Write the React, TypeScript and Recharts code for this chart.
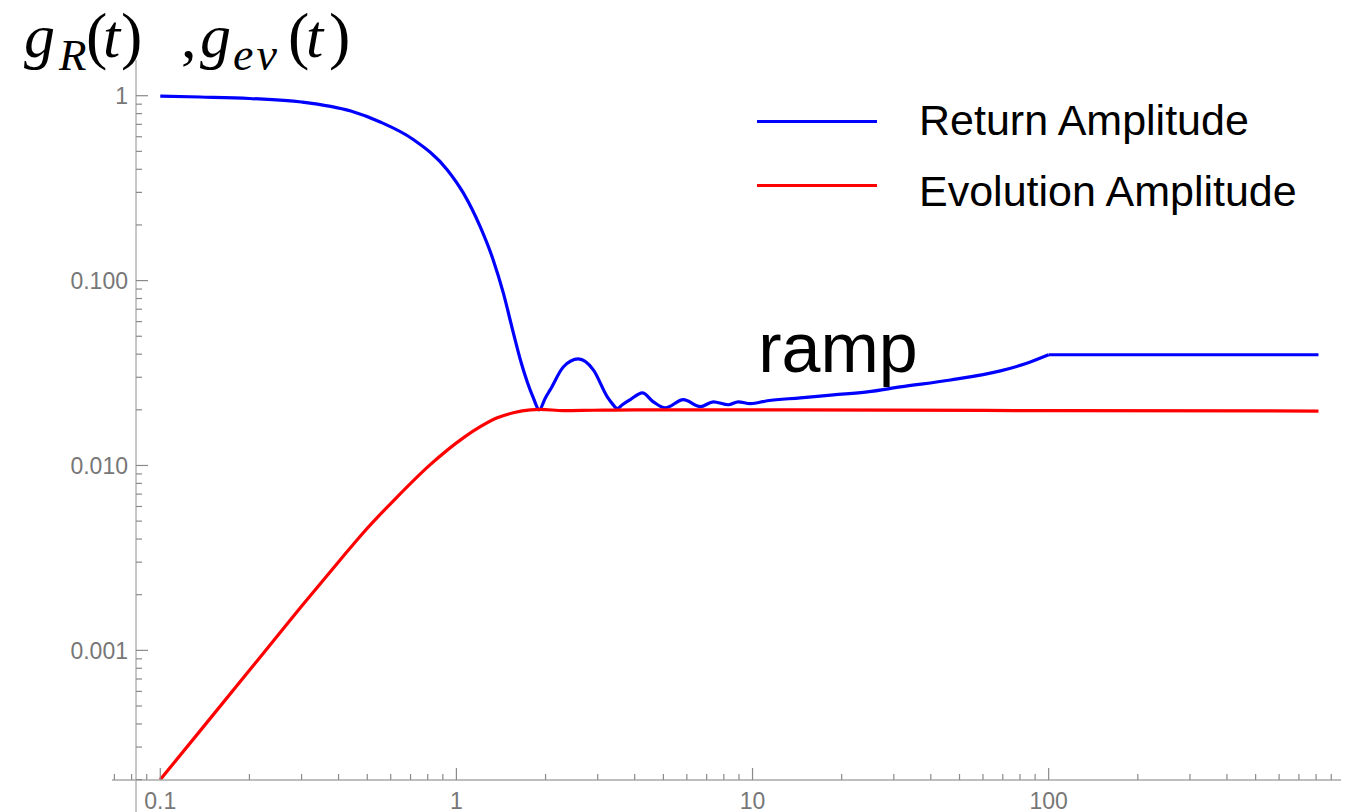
import { LineChart, Line, XAxis, YAxis, ReferenceLine, ReferenceDot, Legend } from 'recharts';

// return amplitude g_R(t) (up to the end of the ramp)
const returnTime = [
  0.1, 0.1365, 0.2, 0.3, 0.44, 0.553, 0.715, 0.932, 1.055, 1.204, 1.332, 1.44, 1.557,
  1.644, 1.735, 1.819, 1.905, 1.997, 2.075, 2.296, 2.58, 2.9, 3.233, 3.36, 3.494,
  3.634, 3.867, 4.245, 4.624, 5.076, 5.838, 6.665, 7.373, 8.286, 8.954, 9.83, 11.22,
  14.5, 18.75, 24.42, 31.6, 46.6, 68.7, 83.4, 100,
];
const returnAmp = [
  0.996, 0.984, 0.966, 0.925, 0.826, 0.721, 0.58, 0.397, 0.298, 0.195, 0.129, 0.0858, 0.0521,
  0.0373, 0.0283, 0.0232, 0.02, 0.0232, 0.0257, 0.0341, 0.0377, 0.0329, 0.0235, 0.0216, 0.0203,
  0.0213, 0.0227, 0.0247, 0.0221, 0.0205, 0.0227, 0.0208, 0.0221, 0.0213, 0.0221, 0.0216, 0.0224,
  0.0232, 0.0241, 0.025, 0.0266, 0.029, 0.0325, 0.0355, 0.0397,
];
// plateau after the ramp
const plateauTime = [100, 815];
const plateauAmp = [0.0397, 0.0397];

// evolution amplitude g_ev(t)
const evolutionTime = [
  0.1, 0.1365, 0.2013, 0.297, 0.4055, 0.4848, 0.6316, 0.816, 1.055, 1.204, 1.374, 1.557,
  1.777, 1.92, 2.296, 2.9, 4, 10, 100, 815,
];
const evolutionAmp = [
  0.0002, 0.000368, 0.00079, 0.0017, 0.00309, 0.00433, 0.00677, 0.0101, 0.0141, 0.0162, 0.0181, 0.0193,
  0.02, 0.0201, 0.0198, 0.0199, 0.02, 0.02, 0.0198, 0.0197,
];

// axes
const X_MAJOR = [0.1, 1, 10, 100];
const X_LABELS = ['0.1', '1', '10', '100'];
const Y_MAJOR = [0.001, 0.01, 0.1, 1];
const Y_LABELS = ['0.001', '0.010', '0.100', '1'];
const X_DOMAIN = [0.0687, 971];
const Y_DOMAIN = [0.000199, 1.56];
const Y_AXIS_AT = 0.0828;

const LEGEND_ORDER = ['Return Amplitude', 'Evolution Amplitude'];
const RAMP_AT = { t: 10.46, g: 0.0321 };

const returnData = returnTime.map((t, i) => ({ t, g: returnAmp[i] }));
const plateauData = plateauTime.map((t, i) => ({ t, g: plateauAmp[i] }));
const evolutionData = evolutionTime.map((t, i) => ({ t, g: evolutionAmp[i] }));

const minorTicks = (lo: number, hi: number) => {
  const out: number[] = [];
  for (let e = lo; e <= hi; e++) {
    for (let m = 1; m <= 9; m++) out.push(m * Math.pow(10, e));
  }
  return out;
};
const xTicks = minorTicks(-2, 2).filter((v) => v >= X_DOMAIN[0] && v <= X_DOMAIN[1]);
const yTicks = minorTicks(-4, 0).filter((v) => v >= Y_DOMAIN[0] * 0.999 && v <= Y_DOMAIN[1]);

const majorIndex = (list: number[], v: number) => list.findIndex((m) => Math.abs(m - v) / m < 1e-6);

const TICK_COLOR = '#8a8a8a';
const AXIS_COLOR = '#a8a8a8';
const LABEL_FONT = '"Liberation Sans", Arial, sans-serif';
const Y_AXIS_OFFSET = 24;

function XTick(props: any) {
  const { x, y, payload } = props;
  const idx = majorIndex(X_MAJOR, payload.value);
  return (
    <g>
      <line x1={x} x2={x} y1={y} y2={y - (idx >= 0 ? 12 : 6)} stroke={TICK_COLOR} strokeWidth={1.2} />
      {idx >= 0 && (
        <text x={x} y={y + 29} textAnchor="middle" fontFamily={LABEL_FONT} fontSize={23} fill="#777">
          {X_LABELS[idx]}
        </text>
      )}
    </g>
  );
}

function YTick(props: any) {
  const { x, y, payload } = props;
  const idx = majorIndex(Y_MAJOR, payload.value);
  const ax = x + Y_AXIS_OFFSET;
  return (
    <g>
      <line x1={ax} x2={ax + (idx >= 0 ? 12 : 6)} y1={y} y2={y} stroke={TICK_COLOR} strokeWidth={1.2} />
      {idx >= 0 && (
        <text x={ax - 8} y={y} dy="0.36em" textAnchor="end" fontFamily={LABEL_FONT} fontSize={23} fill="#777">
          {Y_LABELS[idx]}
        </text>
      )}
    </g>
  );
}

function AxisTitle() {
  const parts = [
    { s: 'g', x: 24, y: 57, size: 62, italic: true, ls: 0 },
    { s: 'R', x: 59, y: 70, size: 45, italic: true, ls: 0 },
    { s: '(', x: 86, y: 57, size: 64, italic: false, ls: 0 },
    { s: 't', x: 103, y: 57, size: 62, italic: true, ls: 0 },
    { s: ')', x: 121, y: 57, size: 64, italic: false, ls: 0 },
    { s: ',', x: 181, y: 57, size: 62, italic: false, ls: 0 },
    { s: 'g', x: 200, y: 57, size: 62, italic: true, ls: 0 },
    { s: 'ev', x: 233, y: 70, size: 46, italic: true, ls: 3 },
    { s: '(', x: 288, y: 57, size: 64, italic: false, ls: 0 },
    { s: 't', x: 306, y: 57, size: 62, italic: true, ls: 0 },
    { s: ')', x: 329, y: 57, size: 64, italic: false, ls: 0 },
  ];
  return (
    <text fontFamily='"Liberation Serif", "Times New Roman", serif' fill="#000">
      {parts.map((p, i) => (
        <tspan key={i} x={p.x} y={p.y} fontSize={p.size} fontStyle={p.italic ? 'italic' : 'normal'} letterSpacing={p.ls}>
          {p.s}
        </tspan>
      ))}
    </text>
  );
}

const LEGEND_LINE_Y = [32, 96];
const LEGEND_TEXT_TOP = [10, 81];

function LegendBox(props: any) {
  const { payload = [] } = props;
  const items = LEGEND_ORDER.map((name) => payload.find((p: any) => p.value === name)).filter(Boolean);
  return (
    <div style={{ position: 'relative', width: 560, height: 130, fontFamily: LABEL_FONT, fontSize: 43 }}>
      {items.map((p: any, i: number) => (
        <div key={p.value}>
          <div
            style={{
              position: 'absolute', left: 0, top: LEGEND_LINE_Y[i] - 1.5, width: 120, height: 3.5,
              background: p.color,
            }}
          />
          <span style={{ position: 'absolute', left: 162, top: LEGEND_TEXT_TOP[i], lineHeight: '43px', whiteSpace: 'nowrap', color: '#000' }}>
            {p.value}
          </span>
        </div>
      ))}
    </div>
  );
}

export default function App() {
  return (
    <div style={{ position: 'absolute', left: 0, top: 0, background: '#fff' }}>
      <LineChart width={1353} height={812} margin={{ top: 60, right: 12, bottom: 0, left: 0 }}>
        <XAxis
          type="number"
          dataKey="t"
          scale="log"
          domain={X_DOMAIN}
          allowDataOverflow
          ticks={xTicks}
          interval={0}
          tick={<XTick />}
          tickLine={false}
          tickSize={0}
          tickMargin={0}
          height={32}
          axisLine={{ stroke: AXIS_COLOR, strokeWidth: 1.3 }}
        />
        <YAxis
          type="number"
          dataKey="g"
          scale="log"
          domain={Y_DOMAIN}
          allowDataOverflow
          ticks={yTicks}
          interval={0}
          tick={<YTick />}
          tickLine={false}
          tickSize={0}
          tickMargin={0}
          width={112}
          axisLine={false}
          label={{ content: () => <AxisTitle /> }}
        />
        <ReferenceLine
          segment={[{ x: Y_AXIS_AT, y: Y_DOMAIN[1] }, { x: Y_AXIS_AT, y: 0.00012 }]}
          stroke={AXIS_COLOR}
          strokeWidth={1.3}
          ifOverflow="visible"
        />
        <Legend
          layout="horizontal"
          verticalAlign="middle"
          align="center"
          wrapperStyle={{ top: 89, left: 757, width: 560, height: 130 }}
          content={<LegendBox />}
        />
        <Line
          data={returnData}
          dataKey="g"
          name="Return Amplitude"
          type="monotone"
          stroke="#0000ff"
          strokeWidth={3.2}
          dot={false}
          isAnimationActive={false}
        />
        <Line
          data={plateauData}
          dataKey="g"
          name="Return Amplitude plateau"
          legendType="none"
          type="linear"
          stroke="#0000ff"
          strokeWidth={3.2}
          dot={false}
          isAnimationActive={false}
        />
        <Line
          data={evolutionData}
          dataKey="g"
          name="Evolution Amplitude"
          type="monotone"
          stroke="#ff0000"
          strokeWidth={3.2}
          dot={false}
          isAnimationActive={false}
        />
        <ReferenceDot
          x={RAMP_AT.t}
          y={RAMP_AT.g}
          r={0}
          stroke="none"
          fill="none"
          label={{
            content: (p: any) => (
              <text x={p.viewBox.x} y={p.viewBox.y} fontFamily={LABEL_FONT} fontSize={70} fill="#000">
                ramp
              </text>
            ),
          }}
        />
      </LineChart>
    </div>
  );
}
